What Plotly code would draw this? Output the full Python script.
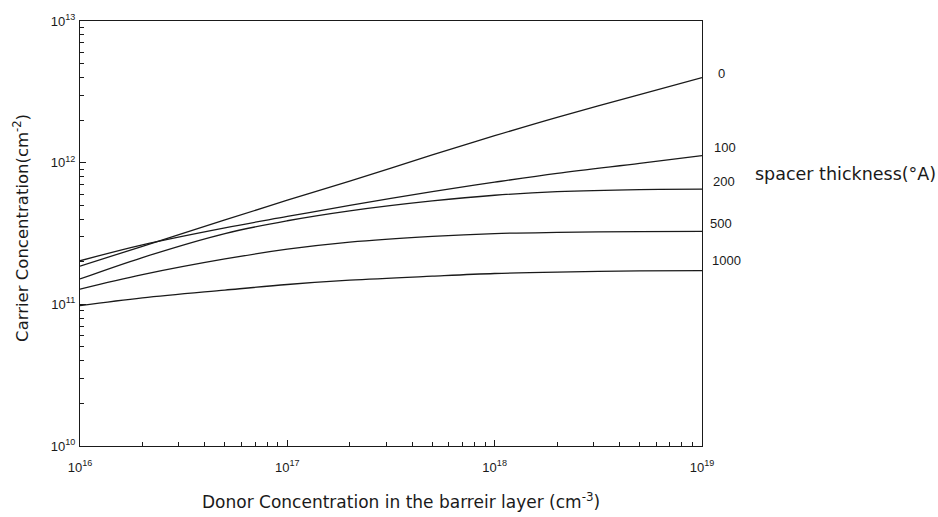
import math
import plotly.graph_objects as go

donor = [1e16, 2e16, 5e16, 1e17, 2e17, 5e17, 1e18, 2e18, 5e18, 1e19]
spacer_labels = ["0", "100", "200", "500", "1000"]
carrier = {
    "0":    [1.86e11, 2.57e11, 3.94e11, 5.43e11, 7.41e11, 1.135e12, 1.55e12, 2.09e12, 3.02e12, 3.98e12],
    "100":  [2.03e11, 2.63e11, 3.47e11, 4.17e11, 5.0e11, 6.24e11, 7.28e11, 8.41e11, 9.89e11, 1.12e12],
    "200":  [1.51e11, 2.14e11, 3.16e11, 3.89e11, 4.57e11, 5.37e11, 5.89e11, 6.24e11, 6.46e11, 6.5e11],
    "500":  [1.28e11, 1.62e11, 2.09e11, 2.45e11, 2.75e11, 3.02e11, 3.16e11, 3.22e11, 3.26e11, 3.27e11],
    "1000": [9.8e10, 1.11e11, 1.26e11, 1.38e11, 1.48e11, 1.58e11, 1.65e11, 1.69e11, 1.72e11, 1.73e11],
}
x_tickvals = [1e16, 1e17, 1e18, 1e19]
x_ticktext = ["10<sup>16</sup>", "10<sup>17</sup>", "10<sup>18</sup>", "10<sup>19</sup>"]
y_tickvals = [1e10, 1e11, 1e12, 1e13]
y_ticktext = ["10<sup>10</sup>", "10<sup>11</sup>", "10<sup>12</sup>", "10<sup>13</sup>"]
x_title = "Donor Concentration in the barreir layer (cm<sup>-3</sup>)"
y_title = "Carrier Concentration(cm<sup>-2</sup>)"
legend_title = "spacer thickness(°A)"

label_yshift = {"0": 4, "100": 8, "200": 8, "500": 8, "1000": 10}
label_xshift = {"0": 14, "100": 10, "200": 9, "500": 6, "1000": 8}
INK = "#1a1a1a"

fig = go.Figure()
for name in spacer_labels:
    fig.add_trace(go.Scatter(x=donor, y=carrier[name], mode="lines",
                             line=dict(color=INK, width=1.3, shape="spline", smoothing=1.0),
                             showlegend=False, name=name))
    fig.add_annotation(x=1, xref="paper", y=math.log10(carrier[name][-1]), yref="y",
                       yshift=label_yshift[name], xshift=label_xshift[name], text=name,
                       showarrow=False, xanchor="left", yanchor="middle",
                       font=dict(family="Liberation Sans", size=13, color=INK))

fig.add_annotation(x=1.082, xref="paper", y=0.639, yref="paper", text=legend_title,
                   showarrow=False, xanchor="left", yanchor="middle",
                   font=dict(family="DejaVu Sans", size=17.5, color=INK))
fig.add_annotation(x=0.516, xref="paper", y=-0.1305, yref="paper", text=x_title,
                   showarrow=False, xanchor="center", yanchor="middle",
                   font=dict(family="DejaVu Sans", size=17, color=INK))
fig.add_annotation(x=-0.095, xref="paper", y=0.513, yref="paper", text=y_title, textangle=-90,
                   showarrow=False, xanchor="center", yanchor="middle",
                   font=dict(family="DejaVu Sans", size=16.5, color=INK))

minor_x = [m * 10 ** e for e in range(16, 19) for m in range(2, 10)]
minor_y = [m * 10 ** e for e in range(10, 13) for m in range(2, 10)]

axis_common = dict(type="log", showgrid=False, zeroline=False, showline=True, linecolor=INK,
                   linewidth=1.3, mirror=True, ticks="inside", ticklen=6, tickcolor=INK,
                   tickfont=dict(family="Liberation Sans", size=13, color=INK))

fig.update_xaxes(range=[16, 19], tickvals=x_tickvals, ticktext=x_ticktext, ticklabelstandoff=9,
                 minor=dict(tickvals=minor_x, ticks="inside", ticklen=4, tickcolor=INK),
                 **axis_common)
fig.update_yaxes(range=[10, 13], tickvals=y_tickvals, ticktext=y_ticktext, ticklabelstandoff=1,
                 minor=dict(tickvals=minor_y, ticks="inside", ticklen=4, tickcolor=INK),
                 **axis_common)

fig.update_layout(width=938, height=517, paper_bgcolor="white", plot_bgcolor="white",
                  margin=dict(l=80, r=236, t=17, b=71), font=dict(family="Liberation Sans"))

fig.write_html("out.html")
